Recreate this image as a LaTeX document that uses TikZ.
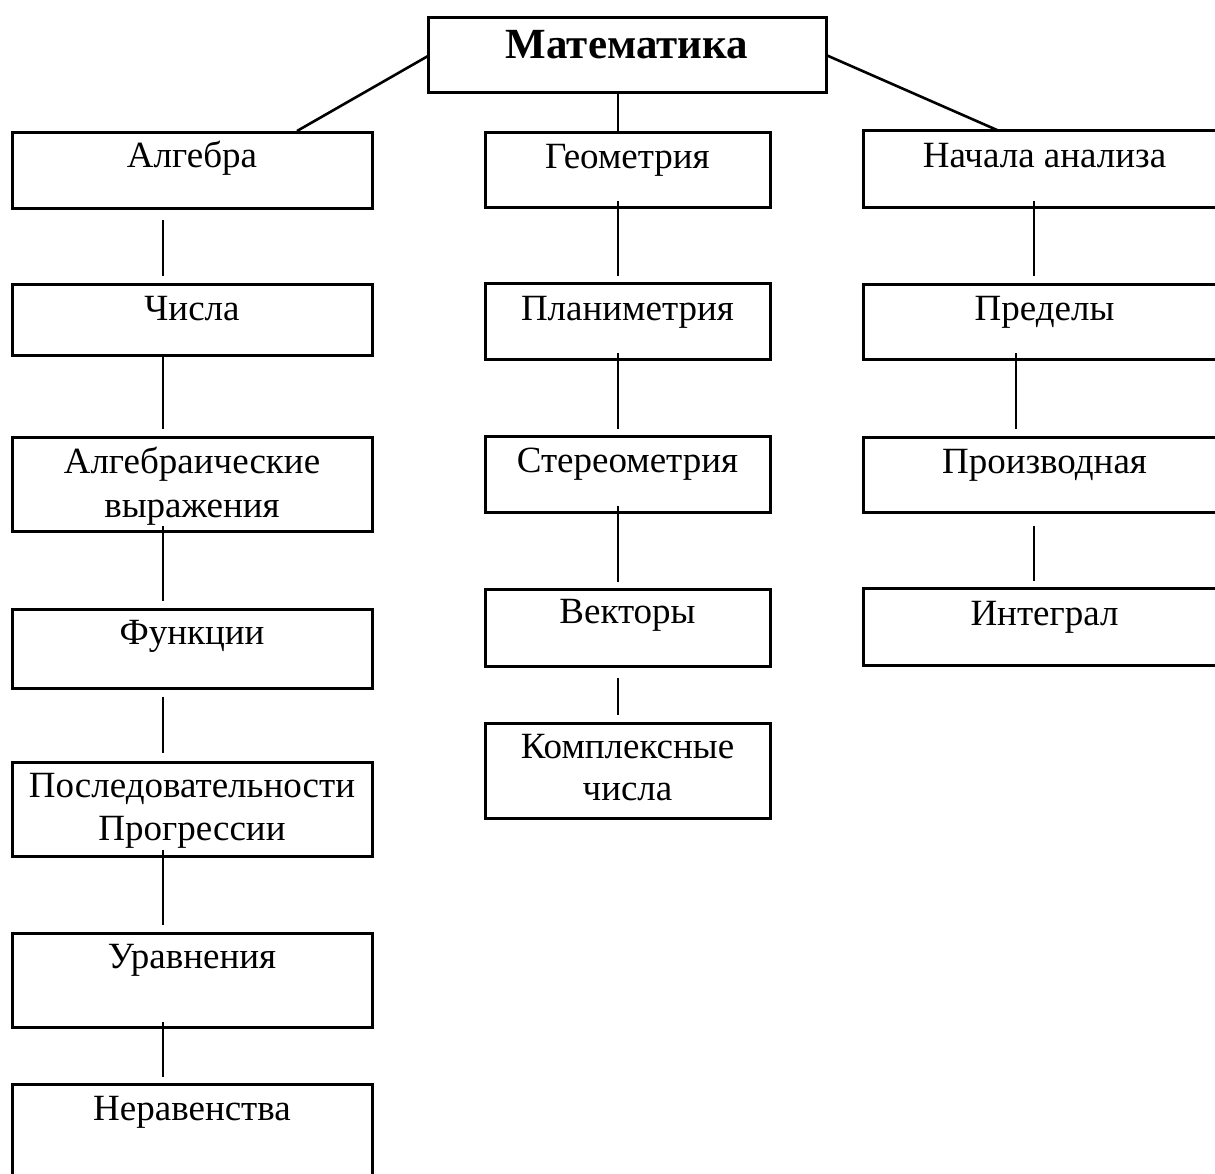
\documentclass[tikz,border=0pt]{standalone}
\usepackage{fontspec}
\setmainfont{Liberation Serif}
\usetikzlibrary{calc}
\begin{document}
\begin{tikzpicture}[x=1pt,y=-1pt,
  box/.style={draw, line width=3pt, rectangle, inner sep=0pt, outer sep=0pt, anchor=north west},
  conn/.style={line width=2.6pt},
  lbl/.style={anchor=base, inner sep=0pt, font=\fontsize{37}{44}\selectfont},
  title/.style={anchor=base, inner sep=0pt, font=\fontsize{43}{50}\selectfont\bfseries}]
\useasboundingbox (0,0) rectangle (1215,1173);
\clip (0,0) rectangle (1215,1173);
\fill[white] (0,0) rectangle (1215,1173);
% boxes
\node[box, minimum width=398pt, minimum height=75pt] (M) at (428,17) {};
\node[box, minimum width=360pt, minimum height=76pt] (alg) at (12,132) {};
\node[box, minimum width=360pt, minimum height=71pt] (chis) at (12,284) {};
\node[box, minimum width=360pt, minimum height=94pt] (algv) at (12,437) {};
\node[box, minimum width=360pt, minimum height=79pt] (func) at (12,609) {};
\node[box, minimum width=360pt, minimum height=94pt] (posl) at (12,762) {};
\node[box, minimum width=360pt, minimum height=94pt] (urav) at (12,933) {};
\node[box, minimum width=360pt, minimum height=110pt] (nerav) at (12,1084) {};
\node[box, minimum width=285pt, minimum height=75pt] (geom) at (485,132) {};
\node[box, minimum width=285pt, minimum height=76pt] (plan) at (485,283) {};
\node[box, minimum width=285pt, minimum height=76pt] (ster) at (485,436) {};
\node[box, minimum width=285pt, minimum height=77pt] (vect) at (485,589) {};
\node[box, minimum width=285pt, minimum height=95pt] (kompl) at (485,723) {};
\node[box, minimum width=363pt, minimum height=77pt] (nach) at (863,130) {};
\node[box, minimum width=363pt, minimum height=75pt] (pred) at (863,284) {};
\node[box, minimum width=363pt, minimum height=75pt] (proiz) at (863,437) {};
\node[box, minimum width=363pt, minimum height=77pt] (integ) at (863,588) {};
% labels
\node[title] (tM) at ($(M.north)+(0,41)$) {Математика};
\node[lbl] (talg) at ($(alg.north)+(0,35)$) {Алгебра};
\node[lbl] (tchis) at ($(chis.north)+(0,36)$) {Числа};
\node[lbl] (talgv1) at ($(algv.north)+(0,36)$) {Алгебраические};
\node[lbl] (talgv2) at ($(algv.north)+(0,80)$) {выражения};
\node[lbl] (tfunc) at ($(func.north)+(0,35)$) {Функции};
\node[lbl] (tposl1) at ($(posl.north)+(0,35)$) {Последовательности};
\node[lbl] (tposl2) at ($(posl.north)+(0,78)$) {Прогрессии};
\node[lbl] (turav) at ($(urav.north)+(0,35)$) {Уравнения};
\node[lbl] (tnerav) at ($(nerav.north)+(0,36)$) {Неравенства};
\node[lbl] (tgeom) at ($(geom.north)+(0,36)$) {Геометрия};
\node[lbl] (tplan) at ($(plan.north)+(0,37)$) {Планиметрия};
\node[lbl] (tster) at ($(ster.north)+(0,36)$) {Стереометрия};
\node[lbl] (tvect) at ($(vect.north)+(0,34)$) {Векторы};
\node[lbl] (tkompl1) at ($(kompl.north)+(0,35)$) {Комплексные};
\node[lbl] (tkompl2) at ($(kompl.north)+(0,77)$) {числа};
\node[lbl] (tnach) at ($(nach.north)+(0,37)$) {Начала анализа};
\node[lbl] (tpred) at ($(pred.north)+(0,36)$) {Пределы};
\node[lbl] (tproiz) at ($(proiz.north)+(0,36)$) {Производная};
\node[lbl] (tinteg) at ($(integ.north)+(0,37)$) {Интеграл};
% connectors from the top box
\draw[conn] ($(M.west)+(0,1.5)$) -- ($(alg.north)+(105,-1)$);
\draw[conn] ($(M.east)+(0,0.5)$) -- ($(nach.north)+(-47.5,0)$);
\draw[conn] ($(M.south)+(-9,0)$) -- ($(geom.north)+(-9.5,0)$);
% left column
\draw[conn] ($(alg.south)+(-29,12)$) -- ($(chis.north)+(-29,-8)$);
\draw[conn] ($(chis.south)+(-29,0)$) -- ($(algv.north)+(-29,-8)$);
\draw[conn] ($(algv.south)+(-29,-5)$) -- ($(func.north)+(-29,-8)$);
\draw[conn] ($(func.south)+(-29,9)$) -- ($(posl.north)+(-29,-9)$);
\draw[conn] ($(posl.south)+(-29,-6)$) -- ($(urav.north)+(-29,-8)$);
\draw[conn] ($(urav.south)+(-29,-5)$) -- ($(nerav.north)+(-29,-7)$);
% middle column
\draw[conn] ($(geom.south)+(-9.5,-6)$) -- ($(plan.north)+(-9.5,-7)$);
\draw[conn] ($(plan.south)+(-9.5,-6)$) -- ($(ster.north)+(-9.5,-7)$);
\draw[conn] ($(ster.south)+(-9.5,-6)$) -- ($(vect.north)+(-9.5,-7)$);
\draw[conn] ($(vect.south)+(-9.5,12)$) -- ($(kompl.north)+(-9.5,-8)$);
% right column
\draw[conn] ($(nach.south)+(-10.5,-6)$) -- ($(pred.north)+(-10.5,-8)$);
\draw[conn] ($(pred.south)+(-28.5,-6)$) -- ($(proiz.north)+(-28.5,-8)$);
\draw[conn] ($(proiz.south)+(-10.5,14)$) -- ($(integ.north)+(-10.5,-7)$);
\end{tikzpicture}
\end{document}
